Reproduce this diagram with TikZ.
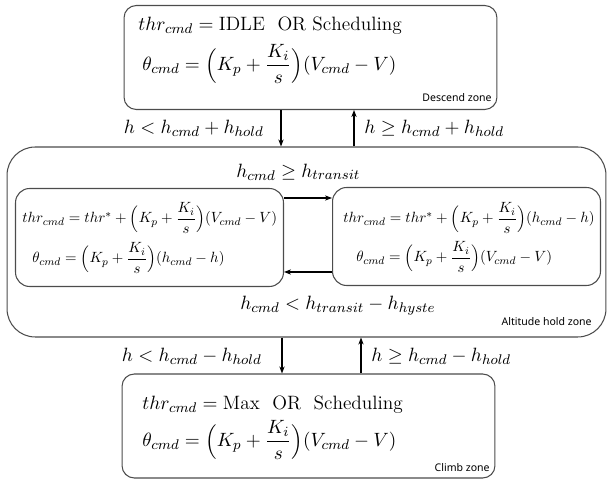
\documentclass[tikz,border=0pt]{standalone}
\usepackage{amsmath}
\usepackage{graphicx}
\usepackage{fontspec}
\newfontfamily\zonefont{Noto Sans}
\usetikzlibrary{arrows.meta, positioning}
\newcommand{\shrinkeq}[1]{\scalebox{0.77}{#1}}

\begin{document}
\begin{tikzpicture}[
        x=0.02cm, y=-0.02cm,
        font=\fontsize{11}{13}\selectfont,
        >={Stealth[length=4pt, width=3pt]},
        zonebox/.style={draw=black!70, line width=0.6pt, rounded corners=7pt, inner sep=0pt, minimum width=7.46cm, minimum height=2.08cm},
        holdbox/.style={zonebox, rounded corners=16pt, minimum width=11.98cm, minimum height=3.8cm},
        modebox/.style={zonebox, rounded corners=8pt, minimum width=5.36cm, minimum height=1.96cm},
        eqn/.style={anchor=west, inner sep=0pt},
        zonetag/.style={anchor=base east, inner sep=0pt, font=\zonefont\fontsize{6}{7}\selectfont},
        arrow/.style={->, line width=0.8pt}
    ]
        \useasboundingbox (0,0) rectangle (609,479);

        \node[zonebox] (descend) at (310.5,57.5) {};
        \node[holdbox] (althold) at (306.5,242) {};
        \node[modebox] (speedmode) at (149.5,237.5) {};
        \node[modebox] (altmode) at (466.5,236.5) {};
        \node[zonebox] (climb) at (308.5,426) {};

        \node[eqn] (descendthr) at (138,26) {$thr_{cmd} = \mathrm{IDLE}\ \ \mathrm{OR}\ \mathrm{Scheduling}$};
        \node[eqn] (descendpitch) at (142,64) {$\theta_{cmd} = \Bigl(K_p + \dfrac{K_i}{s}\Bigr)(V_{cmd} - V)$};
        \node[zonetag] (descendtag) at (492,102) {Descend zone};

        \node[eqn] (transup) at (236,172) {$h_{cmd} \geq h_{transit}$};
        \node[eqn] (transdown) at (240,306) {$h_{cmd} < h_{transit} - h_{hyste}$};
        \node[zonetag] (holdtag) at (592,326) {Altitude hold zone};

        \node[eqn] (speedthr) at (22,218) {\shrinkeq{$thr_{cmd} = thr^{*} + \Bigl(K_p + \dfrac{K_i}{s}\Bigr)(V_{cmd} - V)$}};
        \node[eqn] (speedpitch) at (32,258) {\shrinkeq{$\theta_{cmd} = \Bigl(K_p + \dfrac{K_i}{s}\Bigr)(h_{cmd} - h)$}};
        \node[eqn] (altthr) at (343,218) {\shrinkeq{$thr_{cmd} = thr^{*} + \Bigl(K_p + \dfrac{K_i}{s}\Bigr)(h_{cmd} - h)$}};
        \node[eqn] (altpitch) at (356,257) {\shrinkeq{$\theta_{cmd} = \Bigl(K_p + \dfrac{K_i}{s}\Bigr)(V_{cmd} - V)$}};

        \node[eqn] (climbthr) at (142,405) {$thr_{cmd} = \mathrm{Max}\ \ \mathrm{OR}\ \ \mathrm{Scheduling}$};
        \node[eqn] (climbpitch) at (142,440) {$\theta_{cmd} = \Bigl(K_p + \dfrac{K_i}{s}\Bigr)(V_{cmd} - V)$};
        \node[zonetag] (climbtag) at (490,472) {Climb zone};

        \node[eqn, anchor=east] (tohold) at (264,128) {$h < h_{cmd} + h_{hold}$};
        \node[eqn] (todescend) at (364,128) {$h \geq h_{cmd} + h_{hold}$};
        \node[eqn, anchor=east] (toclimb) at (262,356) {$h < h_{cmd} - h_{hold}$};
        \node[eqn] (fromclimb) at (371,356) {$h \geq h_{cmd} - h_{hold}$};

        \coordinate (downA) at (281,0);
        \coordinate (upA) at (354,0);
        \coordinate (downB) at (282,0);
        \coordinate (upB) at (361,0);
        \coordinate (toalt) at (0,198);
        \coordinate (tospeed) at (0,272);

        \draw[arrow] (descend.south -| downA) -- (althold.north -| downA);
        \draw[arrow] (althold.north -| upA) -- (descend.south -| upA);
        \draw[arrow] (althold.south -| downB) -- (climb.north -| downB);
        \draw[arrow] (climb.north -| upB) -- (althold.south -| upB);
        \draw[arrow] (speedmode.east |- toalt) -- (altmode.west |- toalt);
        \draw[arrow] (altmode.west |- tospeed) -- (speedmode.east |- tospeed);
    \end{tikzpicture}
\end{document}
